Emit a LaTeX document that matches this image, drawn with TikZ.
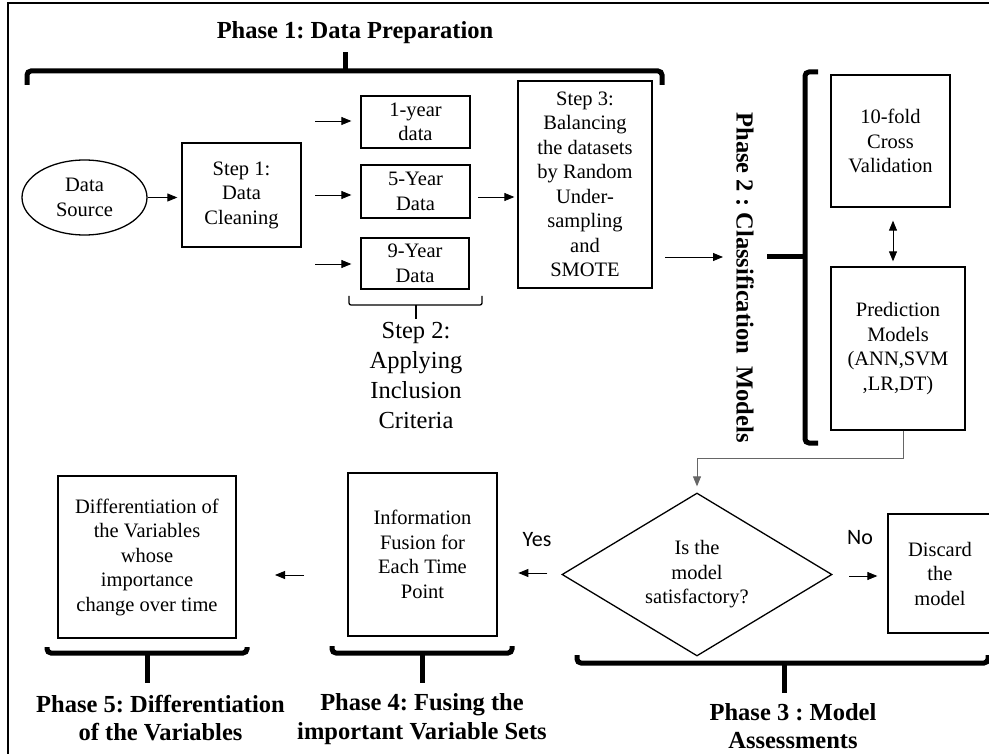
\documentclass[tikz,border=0pt]{standalone}
\usepackage{fontspec}
\setmainfont{Liberation Serif}
\newfontfamily\yesfont{Carlito}
\usetikzlibrary{shapes.geometric,arrows.meta,calc}
\frenchspacing
\begin{document}
\frenchspacing
\begin{tikzpicture}[x=1pt,y=-1pt,
  txt/.style={font=\fontsize{20.5}{24.5}\selectfont,align=center},
  box/.style={txt,draw,line width=1.3pt,inner sep=0pt},
  bigtxt/.style={font=\fontsize{24.5}{30}\selectfont,align=center,inner sep=0pt},
  phasetxt/.style={font=\bfseries\fontsize{24.5}{28.5}\selectfont,align=center,inner sep=0pt},
  yn/.style={font=\yesfont\fontsize{22}{26}\selectfont,inner sep=0pt},
  arr/.style={-{Triangle[length=10pt,width=8pt]},line width=0.9pt},
  darr/.style={{Triangle[length=10pt,width=8pt]}-{Triangle[length=10pt,width=8pt]},line width=0.9pt},
  conn/.style={-{Triangle[length=10pt,width=8pt]},line width=0.9pt,draw=black!60},
  bigbrace/.style={line width=5pt,rounded corners=4pt},
  thinbrace/.style={line width=1.3pt,rounded corners=2pt}]
\useasboundingbox (0,0) rectangle (989,754);
\clip (0,0) rectangle (989,754);
\fill[white] (0,0) rectangle (989,754);
% frame
\draw[line width=1.6pt] (8,760) -- (8,3) -- (995,3);

% Phase 1
\node[phasetxt] (p1) at (355,33) {Phase 1: Data Preparation};
\draw[bigbrace] (27,85) -- (27,71) -- (662,71) -- (662,85);
\draw[line width=5pt] (345,71) -- (345,52);

% nodes
\node[txt,draw,line width=1.3pt,ellipse,minimum width=125pt,minimum height=75pt,inner sep=0pt] (src) at (84.5,197.5) {Data\\Source};
\node[box,minimum width=119pt,minimum height=104pt] (s1) at (241.5,195) {Step 1:\\Data\\Cleaning};
\node[box,minimum width=109pt,minimum height=52pt] (y1) at (415.5,122) {1-year\\data};
\node[box,minimum width=109pt,minimum height=53pt] (y5) at (415.5,191.5) {5-Year\\Data};
\node[box,minimum width=108pt,minimum height=51pt] (y9) at (415,263.5) {9-Year\\Data};
\node[box,minimum width=134pt,minimum height=207pt] (s3) at (585,184.5) {Step 3:\\Balancing\\the datasets\\by Random\\Under-\\sampling\\and\\SMOTE};

% Step 2 brace
\draw[thinbrace] (349,296) -- (349,305) -- (482,305) -- (482,296);
\draw[line width=1.3pt] (416,305) -- (416,319);
\node[bigtxt] (s2) at (416,376) {Step 2:\\Applying\\Inclusion\\Criteria};

% arrows phase 1
\draw[arr,shorten >=4pt] (src.east) -- (src.east -| s1.west);
\coordinate (a1) at (315,121);
\coordinate (a5) at (315,195);
\coordinate (a9) at (315,264);
\draw[arr,shorten >=9pt] (a1) -- (a1 -| y1.west);
\draw[arr,shorten >=9pt] (a5) -- (a5 -| y5.west);
\draw[arr,shorten >=9pt] (a9) -- (a9 -| y9.west);
\coordinate (b5) at (478,197);
\draw[arr,shorten >=3pt] (b5) -- (b5 -| s3.west);

% Phase 2
\node[phasetxt,rotate=-90] (p2) at (745,277.5) {Phase 2 : Classification\ \ Models};
\coordinate (c3) at (665,257);
\coordinate (c3e) at (723,257);
\draw[arr] (c3) -- (c3e);
\draw[bigbrace] (818,72) -- (805,72) -- (805,443) -- (818,443);
\draw[line width=5pt] (767,257) -- (805,257);
\node[box,minimum width=119pt,minimum height=132pt] (cv) at (890.5,141) {10-fold\\Cross\\Validation};
\node[box,minimum width=134pt,minimum height=163pt] (pred) at (898,348.5) {Prediction\\Models\\(ANN,SVM\\,LR,DT)};
\draw[darr,shorten <=13pt,shorten >=5pt] (cv.south -| 893,0) -- (893,0 |- pred.north);

% Phase 3
\node[txt,draw,line width=1.3pt,diamond,minimum width=270pt,minimum height=163pt,inner sep=0pt,aspect=1.66] (dia) at (697,574.5) {Is the\\model\\satisfactory?};
\draw[conn,shorten >=6pt] (903,0 |- pred.south) -- (903,458) -| (dia.north);
\node[box,minimum width=104pt,minimum height=119pt] (disc) at (940,573.5) {Discard\\the\\model};
\node[yn] (yes) at (537,540) {Yes};
\node[yn] (no) at (860,538) {No};
\draw[arr] ($(dia.west)+(-14,-1.5)$) -- ++(-29,0);
\coordinate (n1) at (849,576);
\draw[arr,shorten >=10pt] (n1) -- (n1 -| disc.west);
\draw[bigbrace] (577,655) -- (577,663) -- (988,663) -- (988,655);
\draw[line width=5pt] (784,663) -- (784,693);
\node[phasetxt] (p3) at (793,726) {Phase 3 : Model\\Assessments};

% Phase 4
\node[box,minimum width=149pt,minimum height=163pt] (info) at (422.5,554.5) {Information\\Fusion for\\Each Time\\Point};
\draw[bigbrace] (332,646) -- (332,653) -- (512,653) -- (512,646);
\draw[line width=5pt] (422,653) -- (422,683);
\node[phasetxt] (p4) at (422,719) {Phase 4: Fusing the\\important Variable Sets};

% Phase 5
\node[box,minimum width=178pt,minimum height=162pt] (diff) at (147,557) {Differentiation of\\the Variables\\whose\\importance\\change over time};
\draw[bigbrace] (47,647) -- (47,653) -- (247,653) -- (247,647);
\draw[line width=5pt] (147,653) -- (147,683);
\node[phasetxt] (p5) at (160.5,718) {Phase 5: Differentiation\\of the Variables};
\coordinate (i1) at (304,575);
\draw[arr] (i1) -- ++(-29,0);
\end{tikzpicture}
\end{document}
